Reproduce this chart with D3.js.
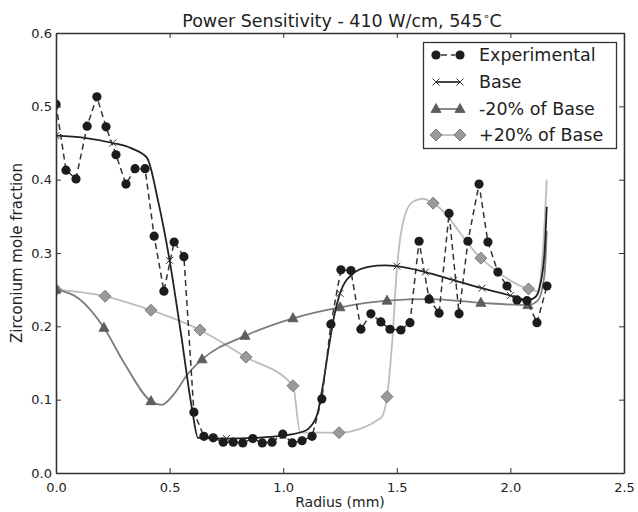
<!DOCTYPE html>
<html>
<head>
<meta charset="utf-8">
<script src="https://cdn.jsdelivr.net/npm/d3@7"></script>
<style>
body { margin: 0; background: #fff; }
text { font-family: "DejaVu Sans", sans-serif; fill: #222; }
</style>
</head>
<body>
<script>
// experimental measurements (radius mm, Zr mole fraction)
const expX = [0.000, 0.044, 0.088, 0.137, 0.180, 0.220, 0.264, 0.308, 0.348, 0.392,
              0.432, 0.475, 0.520, 0.563, 0.607, 0.651, 0.692, 0.736, 0.780, 0.822,
              0.866, 0.908, 0.951, 0.998, 1.040, 1.083, 1.127, 1.170, 1.210, 1.254,
              1.298, 1.342, 1.386, 1.430, 1.470, 1.518, 1.558, 1.598, 1.642, 1.686,
              1.730, 1.774, 1.813, 1.862, 1.901, 1.945, 1.985, 2.029, 2.073, 2.117, 2.161];
const expY = [0.503, 0.413, 0.401, 0.473, 0.513, 0.472, 0.434, 0.394, 0.415, 0.415,
              0.323, 0.248, 0.315, 0.295, 0.083, 0.050, 0.048, 0.042, 0.042, 0.041,
              0.047, 0.041, 0.042, 0.053, 0.041, 0.044, 0.050, 0.101, 0.203, 0.277,
              0.276, 0.196, 0.217, 0.206, 0.196, 0.195, 0.205, 0.316, 0.237, 0.218,
              0.354, 0.217, 0.316, 0.394, 0.315, 0.274, 0.255, 0.236, 0.235, 0.205, 0.255];

// base model curve
const baseX = [0.000, 0.125, 0.250, 0.330, 0.400, 0.450, 0.500, 0.550, 0.600, 0.625,
               0.750, 0.875, 1.000, 1.100, 1.125, 1.150, 1.175, 1.200, 1.225, 1.250,
               1.300, 1.375, 1.450, 1.500, 1.625, 1.750, 1.875, 2.000, 2.080, 2.110,
               2.130, 2.150, 2.160];
const baseY = [0.460, 0.457, 0.450, 0.443, 0.430, 0.370, 0.290, 0.190, 0.085, 0.048,
               0.047, 0.048, 0.051, 0.058, 0.065, 0.080, 0.120, 0.170, 0.215, 0.245,
               0.270, 0.281, 0.283, 0.282, 0.274, 0.263, 0.252, 0.242, 0.236, 0.240,
               0.255, 0.300, 0.363];
const baseMarkX = [0.000, 0.250, 0.500, 0.750, 1.000, 1.250, 1.500, 1.625, 1.750, 1.875, 2.000];
const baseMarkY = [0.460, 0.450, 0.290, 0.047, 0.051, 0.245, 0.282, 0.274, 0.263, 0.252, 0.242];

// -20% of base
const lowX = [0.000, 0.100, 0.211, 0.300, 0.418, 0.466, 0.520, 0.580, 0.643, 0.832,
              1.043, 1.250, 1.457, 1.646, 1.870, 2.077, 2.120, 2.150, 2.160];
const lowY = [0.250, 0.238, 0.198, 0.150, 0.098, 0.093, 0.108, 0.135, 0.155, 0.187,
              0.211, 0.226, 0.235, 0.237, 0.232, 0.229, 0.235, 0.270, 0.330];
const lowMarkX = [0.000, 0.211, 0.418, 0.643, 0.832, 1.043, 1.250, 1.457, 1.646, 1.870, 2.077];
const lowMarkY = [0.250, 0.198, 0.098, 0.155, 0.187, 0.211, 0.226, 0.235, 0.237, 0.232, 0.229];

// +20% of base
const highX = [0.000, 0.216, 0.418, 0.634, 0.836, 1.043, 1.075, 1.246, 1.430, 1.457,
               1.480, 1.500, 1.530, 1.570, 1.615, 1.660, 1.870, 2.080, 2.120, 2.140, 2.160];
const highY = [0.250, 0.241, 0.222, 0.195, 0.158, 0.119, 0.055, 0.055, 0.075, 0.104,
               0.180, 0.277, 0.345, 0.370, 0.374, 0.368, 0.293, 0.251, 0.248, 0.290, 0.400];
const highMarkX = [0.000, 0.216, 0.418, 0.634, 0.836, 1.043, 1.246, 1.457, 1.660, 1.870, 2.080];
const highMarkY = [0.250, 0.241, 0.222, 0.195, 0.158, 0.119, 0.055, 0.104, 0.368, 0.293, 0.251];

const xTicks = [0.0, 0.5, 1.0, 1.5, 2.0, 2.5];
const yTicks = [0.0, 0.1, 0.2, 0.3, 0.4, 0.5, 0.6];
const legendNames = ["Experimental", "Base", "-20% of Base", "+20% of Base"];

const width = 638, height = 512;
const margin = {left: 56, right: 14, top: 33, bottom: 39};

let zip = (xs, ys) => xs.map((x, i) => [x, ys[i]]);

let svg = d3.select("body").append("svg")
    .attr("width", width)
    .attr("height", height);

let x = d3.scaleLinear().domain([0, 2.5]).range([margin.left, width - margin.right]);
let y = d3.scaleLinear().domain([0, 0.6]).range([height - margin.bottom, margin.top]);

svg.append("defs").append("clipPath")
    .attr("id", "plotclip")
    .append("rect")
    .attr("x", x(0)).attr("y", y(0.6))
    .attr("width", x(2.5) - x(0)).attr("height", y(0) - y(0.6));

let plot = svg.append("g").attr("clip-path", "url(#plotclip)");

let smooth = d3.line().x(d => x(d[0])).y(d => y(d[1])).curve(d3.curveMonotoneX);
let straight = d3.line().x(d => x(d[0])).y(d => y(d[1]));

const diamond = "M0,-6L6,0L0,6L-6,0Z";
const triangle = "M0,-5.5L5,3.5L-5,3.5Z";
const cross = "M-3.5,-3.5L3.5,3.5M-3.5,3.5L3.5,-3.5";

// +20% of base
plot.append("path")
    .attr("d", smooth(zip(highX, highY)))
    .attr("fill", "none").attr("stroke", "#bdbdbd").attr("stroke-width", 1.8);
plot.selectAll(".hi").data(zip(highMarkX, highMarkY)).join("path")
    .attr("class", "hi")
    .attr("transform", d => "translate(" + x(d[0]) + "," + y(d[1]) + ")")
    .attr("d", diamond)
    .attr("fill", "#9a9a9a").attr("stroke", "#7a7a7a").attr("stroke-width", 1);

// -20% of base
plot.append("path")
    .attr("d", smooth(zip(lowX, lowY)))
    .attr("fill", "none").attr("stroke", "#7d7d7d").attr("stroke-width", 1.8);
plot.selectAll(".lo").data(zip(lowMarkX, lowMarkY)).join("path")
    .attr("class", "lo")
    .attr("transform", d => "translate(" + x(d[0]) + "," + y(d[1]) + ")")
    .attr("d", triangle)
    .attr("fill", "#5e5e5e").attr("stroke", "#555").attr("stroke-width", 0.8);

// base
plot.append("path")
    .attr("d", smooth(zip(baseX, baseY)))
    .attr("fill", "none").attr("stroke", "#222").attr("stroke-width", 1.8);
plot.selectAll(".base").data(zip(baseMarkX, baseMarkY)).join("path")
    .attr("class", "base")
    .attr("transform", d => "translate(" + x(d[0]) + "," + y(d[1]) + ")")
    .attr("d", cross)
    .attr("fill", "none").attr("stroke", "#333").attr("stroke-width", 1);

// experimental
plot.append("path")
    .attr("d", straight(zip(expX, expY)))
    .attr("fill", "none").attr("stroke", "#333").attr("stroke-width", 1.5)
    .attr("stroke-dasharray", "6,4");
plot.selectAll(".exp").data(zip(expX, expY)).join("circle")
    .attr("class", "exp")
    .attr("cx", d => x(d[0])).attr("cy", d => y(d[1]))
    .attr("r", 4.6)
    .attr("fill", "#1c1c1c");

// axes frame with inward ticks on all sides
let fmt = d3.format(".1f");
svg.append("g").attr("transform", "translate(0," + y(0) + ")")
    .call(d3.axisBottom(x).tickValues(xTicks).tickFormat(fmt).tickSizeInner(-5).tickSizeOuter(0).tickPadding(10));
svg.append("g").attr("transform", "translate(0," + y(0.6) + ")")
    .call(d3.axisTop(x).tickValues(xTicks).tickFormat("").tickSizeInner(-5).tickSizeOuter(0));
svg.append("g").attr("transform", "translate(" + x(0) + ",0)")
    .call(d3.axisLeft(y).tickValues(yTicks).tickFormat(fmt).tickSizeInner(-5).tickSizeOuter(0).tickPadding(4));
svg.append("g").attr("transform", "translate(" + x(2.5) + ",0)")
    .call(d3.axisRight(y).tickValues(yTicks).tickFormat("").tickSizeInner(-5).tickSizeOuter(0));

svg.selectAll(".domain").attr("stroke", "#333").attr("stroke-width", 1.6);
svg.selectAll(".tick line").attr("stroke", "#333");
svg.selectAll(".tick text")
    .attr("font-family", "DejaVu Sans").attr("font-size", 13).attr("fill", "#222");

// titles
let title = svg.append("text")
    .attr("x", 342).attr("y", 27)
    .attr("text-anchor", "middle")
    .attr("font-size", 17.5);
title.append("tspan").text("Power Sensitivity - 410 W/cm, 545");
title.append("tspan").attr("dy", -7).attr("font-size", 11).text("\u2218");
title.append("tspan").attr("dy", 7).text("C");

svg.append("text")
    .attr("x", 340).attr("y", 507)
    .attr("text-anchor", "middle")
    .attr("font-size", 14)
    .text("Radius (mm)");

svg.append("text")
    .attr("transform", "translate(22," + ((y(0) + y(0.6)) / 2) + ") rotate(-90)")
    .attr("text-anchor", "middle")
    .attr("font-size", 15)
    .text("Zirconium mole fraction");

// legend
let legend = svg.append("g");
legend.append("rect")
    .attr("x", 423.5).attr("y", 42.5)
    .attr("width", 193).attr("height", 106)
    .attr("fill", "#fff").attr("stroke", "#333").attr("stroke-width", 1.3);

let rowY = [55, 82, 109, 135];
let lx0 = 436, lx1 = 460;
legendNames.forEach((name, i) => {
    let g = legend.append("g").attr("transform", "translate(0," + rowY[i] + ")");
    let ln = g.append("line").attr("x1", lx0).attr("x2", lx1).attr("y1", 0).attr("y2", 0)
        .attr("stroke-width", i == 0 ? 1.5 : 1.8);
    [lx0, lx1].forEach(px => {
        if (i == 0) {
            g.append("circle").attr("cx", px).attr("cy", 0).attr("r", 4.6).attr("fill", "#1c1c1c");
        } else if (i == 1) {
            g.append("path").attr("transform", "translate(" + px + ",0)").attr("d", cross)
                .attr("stroke", "#333").attr("fill", "none");
        } else if (i == 2) {
            g.append("path").attr("transform", "translate(" + px + ",0)").attr("d", triangle)
                .attr("fill", "#5e5e5e").attr("stroke", "#555").attr("stroke-width", 0.8);
        } else {
            g.append("path").attr("transform", "translate(" + px + ",0)").attr("d", diamond)
                .attr("fill", "#9a9a9a").attr("stroke", "#7a7a7a");
        }
    });
    ln.attr("stroke", ["#333", "#333", "#7d7d7d", "#bdbdbd"][i]);
    if (i == 0) ln.attr("stroke-dasharray", "6,4").attr("x1", lx0 + 5).attr("x2", lx1 - 5);
    g.append("text").attr("x", 479).attr("y", 6)
        .attr("font-size", 17.5)
        .text(name);
});
</script>
</body>
</html>
